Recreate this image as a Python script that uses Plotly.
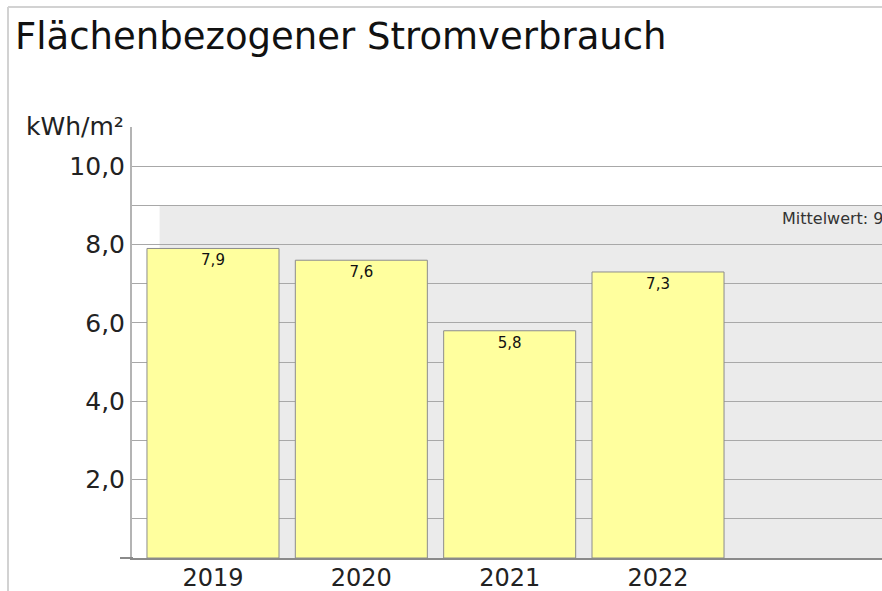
import plotly.graph_objects as go

# ---- data ----
years = ["2019", "2020", "2021", "2022"]
values = [7.9, 7.6, 5.8, 7.3]
value_labels = ["7,9", "7,6", "5,8", "7,3"]
mittelwert = 9.0
mittelwert_label = "Mittelwert: 9,0 kWh/m²"
y_tick_vals = [2, 4, 6, 8, 10]
y_tick_text = ["2,0", "4,0", "6,0", "8,0", "10,0"]
unit_label = "kWh/m²"
title_text = "Flächenbezogener Stromverbrauch"

W, H = 882, 591
ML, MR, MT, MB = 132, 0, 127, 33
PW, PH = W - ML - MR, H - MT - MB


def px_x(px):
    return (px - ML) / PW


def px_y(py):
    return (H - MB - py) / PH


FONT = "DejaVu Sans"

fig = go.Figure()
fig.add_trace(go.Bar(
    x=years, y=values, text=value_labels,
    textposition="inside", insidetextanchor="end",
    textfont=dict(family=FONT, size=15, color="#111"),
    marker=dict(color="#ffff9e", line=dict(color="#8c8c8c", width=1)),
    width=0.89, cliponaxis=False, hoverinfo="skip",
))

shapes = [
    # mean band
    dict(type="rect", xref="x", yref="y", x0=-0.36, x1=6, y0=0, y1=mittelwert,
         fillcolor="#ebebeb", line=dict(width=0), layer="below"),
    # outer frame
    dict(type="line", xref="paper", yref="paper", x0=px_x(8), x1=px_x(882),
         y0=px_y(7), y1=px_y(7), line=dict(color="#d2d2d2", width=2)),
    dict(type="line", xref="paper", yref="paper", x0=px_x(8), x1=px_x(8),
         y0=px_y(7), y1=px_y(591), line=dict(color="#d2d2d2", width=2)),
    # bottom axis extension to the left
    dict(type="line", xref="paper", yref="paper", x0=px_x(120), x1=px_x(133),
         y0=0, y1=0, line=dict(color="#8a8a8a", width=2)),
]

annotations = [
    dict(text=title_text, xref="paper", yref="paper", x=px_x(13), y=px_y(13),
         xanchor="left", yanchor="top", showarrow=False,
         font=dict(family=FONT, size=37, color="#111")),
    dict(text=unit_label, xref="paper", yref="paper", x=px_x(126), y=px_y(126),
         xanchor="right", yanchor="middle", showarrow=False,
         font=dict(family=FONT, size=25, color="#222")),
    dict(text=mittelwert_label, xref="paper", yref="y", x=px_x(780), y=mittelwert - 0.33,
         xanchor="left", yanchor="middle", showarrow=False,
         font=dict(family=FONT, size=16, color="#333")),
]

fig.update_layout(
    width=W, height=H,
    margin=dict(l=ML, r=MR, t=MT, b=MB, autoexpand=False),
    paper_bgcolor="white", plot_bgcolor="white",
    showlegend=False,
    shapes=shapes, annotations=annotations,
    xaxis=dict(
        type="category", categoryorder="array", categoryarray=years,
        range=[-0.546, 4.51], showgrid=False, ticks="",
        tickfont=dict(family=FONT, size=24, color="#222"),
        ticklabelstandoff=-3,
        showline=True, linecolor="#8a8a8a", linewidth=2,
        fixedrange=True, automargin=False,
    ),
    yaxis=dict(
        range=[0, 11], tickvals=y_tick_vals, ticktext=y_tick_text,
        showgrid=True, gridcolor="#a8a8a8", gridwidth=1,
        minor=dict(dtick=1, showgrid=True, gridcolor="#a8a8a8", gridwidth=1),
        ticks="", zeroline=False,
        tickfont=dict(family=FONT, size=25, color="#222"),
        showline=True, linecolor="#b4b4b4", linewidth=2,
        fixedrange=True, automargin=False,
    ),
    bargap=0.11,
)

fig.write_html(
    "out.html",
    config={"displayModeBar": False, "staticPlot": True},
    post_script="document.body.style.margin='0';document.body.style.overflow='hidden';",
)
